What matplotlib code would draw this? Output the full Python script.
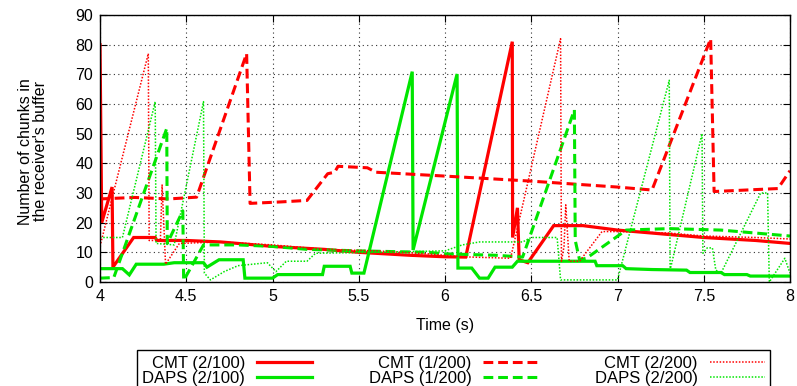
import matplotlib
matplotlib.use("Agg")
import matplotlib.pyplot as plt

# receiver buffer occupancy (chunks) over time (s), one pair of lists per run

cmt_2_100_t = [4.0, 4.01, 4.07, 4.075, 4.195, 4.32, 4.33, 4.5, 4.7, 5.0, 5.3, 5.5, 5.8, 6.0, 6.12,
               6.39, 6.392, 6.42, 6.43, 6.48, 6.63, 6.8, 7.0, 7.3, 7.5, 7.8, 8.0]
cmt_2_100_v = [80, 20, 32, 5, 15, 15, 14, 14, 13.5, 12, 11, 10, 9, 8.5, 8.4,
               81, 15, 25, 7.5, 6.5, 19, 19, 17.5, 16, 15, 14, 13]

cmt_1_200_t = [4.0, 4.2, 4.4, 4.56, 4.85, 4.87, 5.05, 5.2, 5.32, 5.36, 5.38, 5.55, 5.6, 6.0,
               6.5, 7.0, 7.2, 7.54, 7.56, 7.93, 8.0]
cmt_1_200_v = [28, 28.5, 28, 28.6, 77, 26.5, 27, 27.5, 36.5, 37, 39, 38.5, 37, 35.7,
               34, 32, 31, 82, 30.5, 31.5, 37.5]

cmt_2_200_t = [4.0, 4.28, 4.285, 4.35, 4.36, 4.38, 4.46, 4.7, 5.0, 5.3, 5.6, 5.9, 6.1, 6.38,
               6.67, 6.675, 6.69, 6.70, 6.72, 6.78, 6.91, 7.0, 7.3, 7.5, 7.8, 8.0]
cmt_2_200_v = [12, 77, 14, 14, 32.7, 6, 13, 13.5, 12.5, 11, 10.5, 9.5, 8.5, 8,
               82, 7, 12, 26, 7, 7, 17, 17, 16.5, 15.5, 15, 14.5]

daps_2_100_t = [4.0, 4.13, 4.17, 4.21, 4.37, 4.43, 4.6, 4.62, 4.69, 4.83, 4.84, 5.0, 5.03,
                5.29, 5.3, 5.45, 5.46, 5.53, 5.81, 5.815, 6.07, 6.075, 6.155, 6.2, 6.25,
                6.29, 6.39, 6.42, 6.87, 6.88, 7.03, 7.05, 7.2, 7.4, 7.42, 7.6, 7.62, 7.75,
                7.77, 8.0]
daps_2_100_v = [4.5, 4.5, 2.4, 6, 6, 6.5, 6.5, 5, 7.5, 7.5, 1.3, 1.3, 2.5,
                2.5, 5.3, 5.3, 3, 3, 70.9, 10.8, 70.1, 4.7, 4.7, 1.3, 1.3,
                5, 5, 7, 7, 5.5, 5.5, 4.5, 4.2, 4, 3.2, 3.2, 2.5, 2.5,
                2, 2]

daps_1_200_t = [4.0, 4.08, 4.387, 4.39, 4.48, 4.485, 4.6, 4.8, 5.0, 5.2, 5.5, 5.9, 6.0, 6.3,
                6.45, 6.75, 6.755, 6.78, 6.82, 7.05, 7.3, 7.6, 7.8, 8.0]
daps_1_200_v = [1.3, 1.5, 51.8, 13, 24, 0.5, 12.5, 12.5, 12, 11, 10.5, 10, 9.5, 9,
                8.4, 58, 14, 7.5, 8, 17.5, 18, 17.5, 16.5, 15.5]

daps_2_200_t = [4.0, 4.13, 4.32, 4.325, 4.43, 4.6, 4.605, 4.64, 4.72, 4.8, 4.97, 5.02, 5.08,
                5.2, 5.25, 5.6, 6.0, 6.1, 6.2, 6.45, 6.5, 6.65, 6.67, 7.0, 7.30, 7.305,
                7.49, 7.495, 7.52, 7.55, 7.57, 7.6, 7.83, 7.87, 7.88, 7.97, 8.0]
daps_2_200_v = [15, 15, 60.8, 13, 12.5, 60.8, 3, 0.7, 3.5, 5.5, 6.5, 3.5, 7,
                7, 9.7, 10, 10.5, 12.5, 13.5, 13.5, 15, 15, 0.7, 0.7, 68, 4,
                50, 9.7, 11.5, 11.5, 4, 3, 30, 30, 0, 8, 3]

x_ticks = [4, 4.5, 5, 5.5, 6, 6.5, 7, 7.5, 8]
x_tick_labels = ["4", "4.5", "5", "5.5", "6", "6.5", "7", "7.5", "8"]
y_ticks = [0, 10, 20, 30, 40, 50, 60, 70, 80, 90]

RED = "#ff0000"
GREEN = "#00e600"
SOLID = dict(linestyle="-", lw=2.3)
DASHED = dict(linestyle=(0, (3.2, 1.6)), lw=2.2)
DOTTED = dict(linestyle=(0, (1, 1.1)), lw=1.1)

plt.rcParams["font.family"] = ["Liberation Sans", "DejaVu Sans"]
plt.rcParams["font.size"] = 11.5

W, H = 797, 386
fig = plt.figure(figsize=(W / 100, H / 100), dpi=100)
ax = fig.add_axes([100 / W, 1 - 282 / H, 690 / W, 267 / H])

series = [
    (cmt_2_100_t, cmt_2_100_v, RED, SOLID, "CMT (2/100)"),
    (daps_2_100_t, daps_2_100_v, GREEN, SOLID, "DAPS (2/100)"),
    (cmt_1_200_t, cmt_1_200_v, RED, DASHED, "CMT (1/200)"),
    (daps_1_200_t, daps_1_200_v, GREEN, DASHED, "DAPS (1/200)"),
    (cmt_2_200_t, cmt_2_200_v, RED, DOTTED, "CMT (2/200)"),
    (daps_2_200_t, daps_2_200_v, GREEN, DOTTED, "DAPS (2/200)"),
]
handles = []
for t, v, col, sty, lab in series:
    ln, = ax.plot(t, v, color=col, label=lab, solid_joinstyle="miter", **sty)
    handles.append(ln)

ax.set_xlim(4, 8)
ax.set_ylim(0, 90)
ax.set_xticks(x_ticks)
ax.set_xticklabels(x_tick_labels)
ax.set_yticks(y_ticks)
ax.tick_params(direction="in", length=5, width=0.8, top=True, right=True, pad=5)
ax.grid(True, color="#333333", linestyle=(0, (1, 3)), lw=0.8)
ax.set_axisbelow(True)
for s in ax.spines.values():
    s.set_linewidth(1.0)

ax.set_xlabel("Time (s)")
ax.xaxis.set_label_coords(0.5, -0.135)
ax.set_ylabel("Number of chunks in\nthe receiver's buffer", linespacing=1.0)
ax.yaxis.set_label_coords(-0.075, 0.49)

leg = fig.legend(handles=handles, ncol=3, loc="upper center",
                 bbox_to_anchor=(453.5 / W, 1 - 350 / H), markerfirst=False,
                 fontsize=12, fancybox=False, edgecolor="black", framealpha=1,
                 handlelength=3.3, handletextpad=0.7, columnspacing=3.4,
                 labelspacing=-0.02, borderpad=0.35, borderaxespad=0)
leg.get_frame().set_linewidth(1.0)

fig.savefig("out.png", dpi=100)
